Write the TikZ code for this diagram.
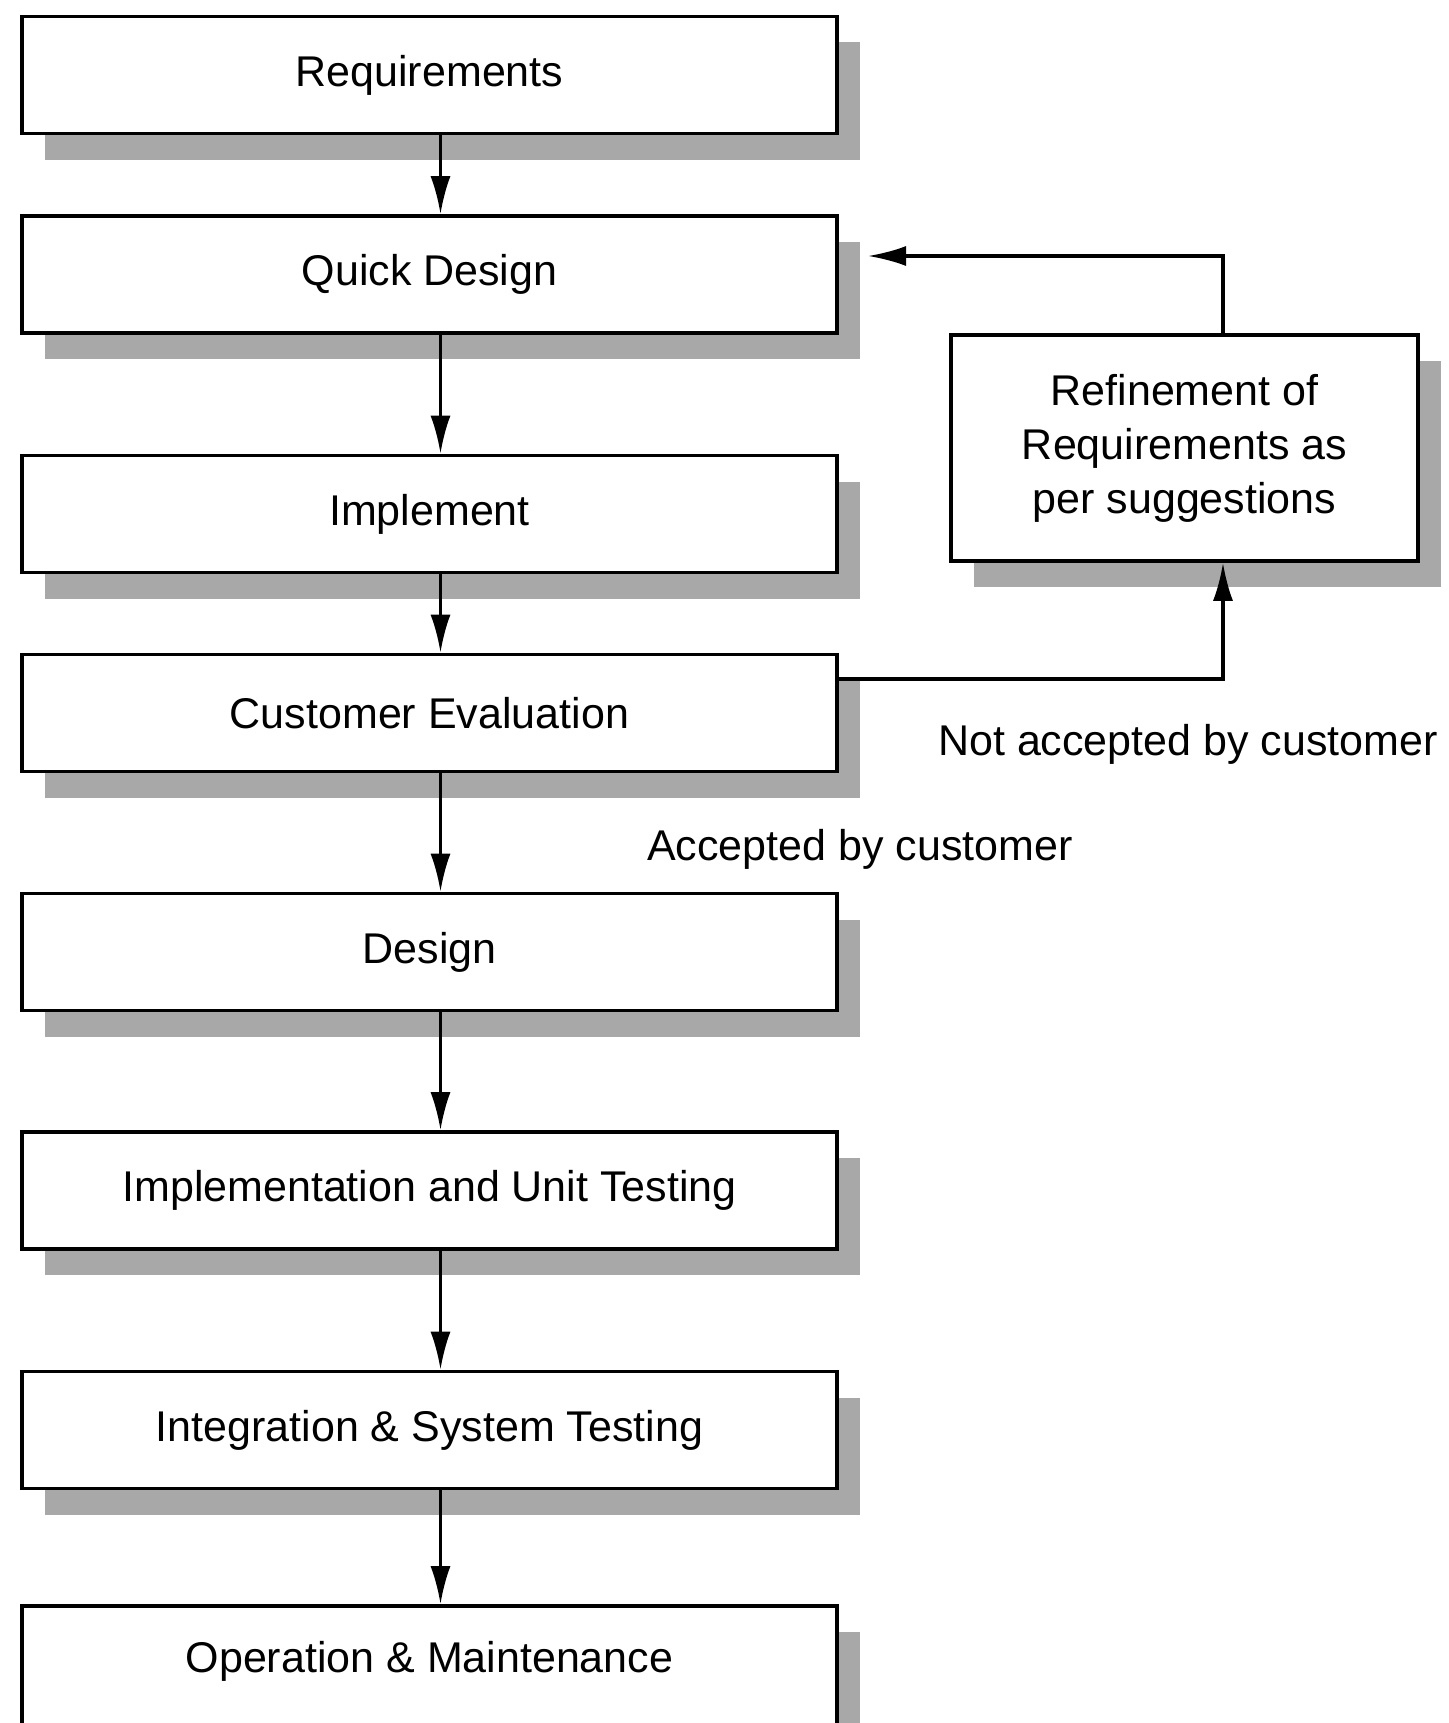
\documentclass[tikz,border=0pt]{standalone}
\usepackage{fontspec}
\setmainfont{Liberation Sans}
\usetikzlibrary{arrows.meta,shadows,calc}
\definecolor{shadowgray}{HTML}{A8A8A8}
\begin{document}
\begin{tikzpicture}[x=0.5pt,y=-0.5pt,
  stagebox/.style={draw=black, line width=1.8pt, fill=white,
    minimum width=407.5pt, minimum height=58.5pt, inner sep=0pt,
    font=\fontsize{21.5}{27}\selectfont,
    drop shadow={shadow xshift=11.5pt, shadow yshift=-13pt, fill=shadowgray, opacity=1}},
  refbox/.style={stagebox, minimum width=233.5pt, minimum height=113pt, align=center},
  flow/.style={line width=1.6pt, -{Latex[length=19pt,width=10pt]}},
  lbl/.style={font=\fontsize{21.5}{27}\selectfont, inner sep=0pt}]
\useasboundingbox (0,0) rectangle (1448,1723);
\clip (0,0) rectangle (1448,1723);
\node[stagebox] (req) at (429.5,75) {Requirements};
\node[stagebox] (qd) at (429.5,274.5) {Quick Design};
\node[stagebox] (impl) at (429.5,514) {Implement};
\node[stagebox] (ce) at (429.5,713) {Customer Evaluation};
\node[stagebox] (des) at (429.5,952) {Design};
\node[stagebox] (iut) at (429.5,1190.5) {Implementation and Unit Testing};
\node[stagebox] (ist) at (429.5,1430) {Integration \& System Testing};
\node[stagebox, minimum height=75pt, text depth=24pt] (om) at (429.5,1681) {Operation \& Maintenance};
\node[refbox] (ref) at (1184.5,448) {Refinement of\\Requirements as\\per suggestions};
\coordinate (ax) at (440.5,0);
\coordinate (fx) at (1223,0);
\coordinate (ce1) at (837,679);
\coordinate (qdin) at (868,256);
\draw[flow] (req.south -| ax) -- (qd.north -| ax);
\draw[flow] (qd.south -| ax) -- (impl.north -| ax);
\draw[flow] (impl.south -| ax) -- (ce.north -| ax);
\draw[flow] (ce.south -| ax) -- (des.north -| ax);
\draw[flow] (des.south -| ax) -- (iut.north -| ax);
\draw[flow] (iut.south -| ax) -- (ist.north -| ax);
\draw[flow] (ist.south -| ax) -- (om.north -| ax);
\draw[flow] (ce.east |- ce1) -| (ref.south -| fx);
\draw[flow] (ref.north -| fx) |- (qdin);
\node[lbl] (nacc) at (1188,744) {Not accepted by customer};
\node[lbl] (acc) at (860,849) {Accepted by customer};
\end{tikzpicture}
\end{document}
